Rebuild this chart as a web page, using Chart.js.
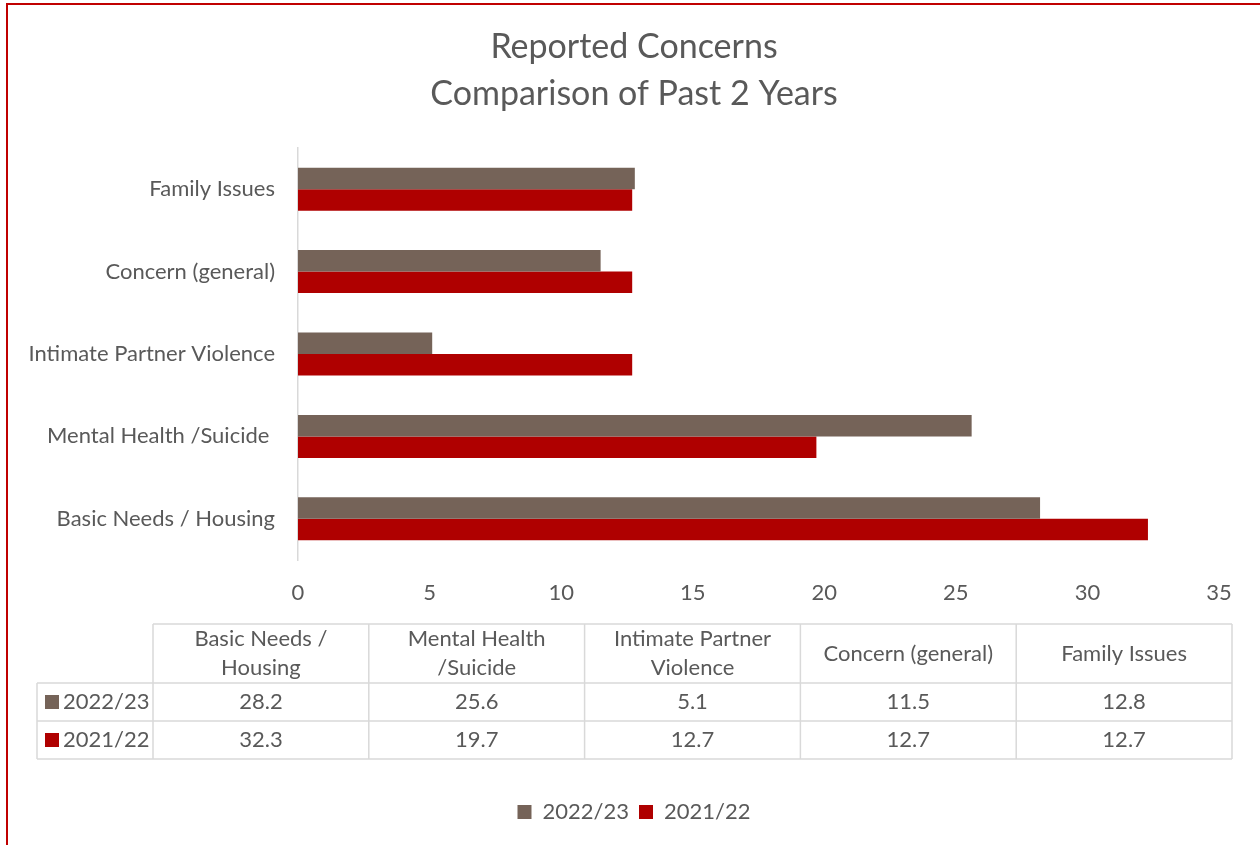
<!DOCTYPE html>
<html>
<head>
<meta charset="utf-8">
<script src="https://cdn.jsdelivr.net/npm/chart.js@4"></script>
<style>
  html, body { margin: 0; padding: 0; background: #fff; }
</style>
</head>
<body>
<canvas id="myChart" width="1260" height="845"></canvas>
<script>
const categories = ["Basic Needs / Housing", "Mental Health /Suicide ", "Intimate Partner Violence", "Concern (general)", "Family Issues"];
const seriesNames = ["2022/23", "2021/22"];
const values2223 = [28.2, 25.6, 5.1, 11.5, 12.8];
const values2122 = [32.3, 19.7, 12.7, 12.7, 12.7];
const seriesColors = ["#756358", "#AF0000"];
const xMin = 0, xMax = 35, xStep = 5;

const textColor = "#595959";
const lineColor = "#D9D9D9";
const fontFamily = "Lato, 'Open Sans', sans-serif";
const fontSize = 22;

// red frame + data table under the axis
const frameAndTable = {
  id: "frameAndTable",
  afterDraw(chart) {
    const ctx = chart.ctx;
    ctx.save();

    ctx.strokeStyle = "#C00000";
    ctx.lineWidth = 2;
    ctx.beginPath();
    ctx.moveTo(7, 845);
    ctx.lineTo(7, 4);
    ctx.lineTo(1260, 4);
    ctx.stroke();

    const left = 37, labelW = 116, top = 624, headH = 59, rowH = 38;
    const colX0 = left + labelW, right = 1232;
    const colW = (right - colX0) / categories.length;
    const rows = [values2223, values2122];
    const bottom = top + headH + rowH * rows.length;

    ctx.strokeStyle = lineColor;
    ctx.lineWidth = 1.5;
    ctx.beginPath();
    ctx.moveTo(colX0, top); ctx.lineTo(right, top);
    for (let r = 0; r <= rows.length; r++) {
      const y = top + headH + r * rowH;
      ctx.moveTo(left, y); ctx.lineTo(right, y);
    }
    for (let c = 0; c <= categories.length; c++) {
      const x = colX0 + c * colW;
      ctx.moveTo(x, top); ctx.lineTo(x, bottom);
    }
    ctx.moveTo(left, top + headH); ctx.lineTo(left, bottom);
    ctx.stroke();

    ctx.fillStyle = textColor;
    ctx.font = fontSize + "px " + fontFamily;
    ctx.textAlign = "center";
    ctx.textBaseline = "middle";

    // header, wrapped to the column width
    categories.forEach((cat, c) => {
      const words = cat.trim().split(" ");
      const lines = [];
      let line = "";
      words.forEach(w => {
        const test = line ? line + " " + w : w;
        if (ctx.measureText(test).width > colW - 24 && line) {
          lines.push(line);
          line = w;
        } else {
          line = test;
        }
      });
      lines.push(line);
      const cx = colX0 + c * colW + colW / 2;
      const cy = top + headH / 2;
      lines.forEach((l, i) => {
        ctx.fillText(l, cx, cy + (i - (lines.length - 1) / 2) * 29);
      });
    });

    rows.forEach((vals, r) => {
      const cy = top + headH + r * rowH + rowH / 2;
      ctx.fillStyle = seriesColors[r];
      ctx.fillRect(left + 8, cy - 7, 14, 14);
      ctx.fillStyle = textColor;
      ctx.textAlign = "left";
      ctx.fillText(seriesNames[r], left + 26, cy);
      ctx.textAlign = "center";
      vals.forEach((v, c) => {
        ctx.fillText(v.toFixed(1), colX0 + c * colW + colW / 2, cy);
      });
    });

    ctx.restore();
  }
};

const ctx = document.getElementById("myChart").getContext("2d");

const barChart = new Chart(ctx, {
  type: "bar",
  data: {
    labels: categories,
    datasets: [
      {
        label: seriesNames[0],
        data: values2223,
        backgroundColor: seriesColors[0],
        borderWidth: 0,
      },
      {
        label: seriesNames[1],
        data: values2122,
        backgroundColor: seriesColors[1],
        borderWidth: 0,
      },
    ],
  },
  options: {
    indexAxis: "y",
    responsive: false,
    animation: false,
    barPercentage: 1,
    categoryPercentage: 0.522,
    layout: {
      padding: { left: 49, right: 41, top: 0, bottom: 12 },
    },
    scales: {
      x: {
        min: xMin,
        max: xMax,
        ticks: {
          stepSize: xStep,
          color: textColor,
          font: { family: fontFamily, size: fontSize },
          padding: 20,
        },
        grid: { display: false, drawTicks: false },
        border: { display: false },
        afterFit(scale) {
          scale.height = 231;
        },
      },
      y: {
        reverse: true,
        ticks: {
          color: textColor,
          font: { family: fontFamily, size: fontSize },
          padding: 23,
        },
        grid: { display: false, drawTicks: false },
        border: { display: true, color: lineColor, width: 1.5 },
        afterFit(scale) {
          scale.width = 249;
          // long labels run into the left padding, don't clip them
          scale._computeLabelArea = () => undefined;
        },
      },
    },
    plugins: {
      title: {
        display: true,
        text: ["Reported Concerns", "Comparison of Past 2 Years"],
        color: textColor,
        font: { family: fontFamily, size: 34, weight: "normal", lineHeight: 47 / 34 },
        padding: { top: 24, bottom: 30 },
      },
      legend: {
        position: "bottom",
        labels: {
          color: textColor,
          font: { family: fontFamily, size: fontSize },
          boxWidth: 14,
          boxHeight: 14,
          padding: 10,
        },
      },
      tooltip: { enabled: false },
    },
  },
  plugins: [frameAndTable],
});
</script>
</body>
</html>
